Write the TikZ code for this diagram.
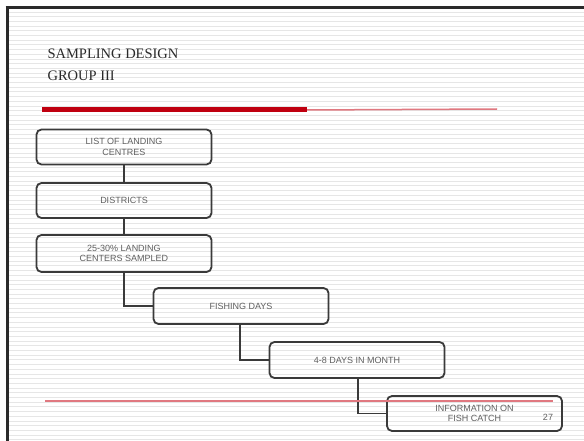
\documentclass[tikz,border=0pt]{standalone}
\usepackage{fontspec}
\setmainfont{Liberation Serif}
\newfontfamily\boxfont{Liberation Sans}
\definecolor{frame}{HTML}{2A2A2A}
\definecolor{stripe}{HTML}{E6E6E6}
\definecolor{darkred}{HTML}{C00010}
\definecolor{pinkred}{HTML}{E07880}
\definecolor{boxline}{HTML}{3A3A3A}
\definecolor{boxtext}{HTML}{606060}
\begin{document}
\begin{tikzpicture}[x=1pt,y=-1pt,
  stepbox/.style={draw=boxline,line width=1.8pt,rounded corners=5pt,minimum width=175pt,
    inner sep=0pt,font=\boxfont\fontsize{9}{10.5}\selectfont,text=boxtext,align=center},
  link/.style={draw=boxline,line width=1.8pt},
  titletext/.style={font=\fontsize{14.5}{16}\selectfont,text=frame,anchor=base west}]
\useasboundingbox (0,0) rectangle (584,441);
\fill[white] (0,0) rectangle (584,441);
\foreach \y in {12,16.7,...,441} \draw[stripe,line width=0.8pt] (9,\y) -- (584,\y);
% frame
\draw[frame,line width=3pt] (5.5,8) -- (584,8);
\draw[frame,line width=3pt] (7,6.5) -- (7,441);
% title
\node[titletext] (t1) at (44,59) {SAMPLING DESIGN};
\node[titletext] (t2) at (44,81) {GROUP III};
% red bars
\coordinate (ra) at (42,110);
\coordinate (rb) at (307,110);
\coordinate (rc) at (497,109);
\draw[pinkred,line width=1.5pt] (rb) -- (rc);
\draw[darkred,line width=5pt] (ra) -- (rb);
% boxes
\node[stepbox,minimum height=35pt] (b1) at (124,147) {LIST OF LANDING\\CENTRES};
\node[stepbox,minimum height=35pt] (b2) at (124,200.5) {DISTRICTS};
\node[stepbox,minimum height=37pt] (b3) at (124,253.5) {25-30\% LANDING\\CENTERS SAMPLED};
\node[stepbox,minimum height=36pt] (b4) at (241,306) {FISHING DAYS};
\node[stepbox,minimum height=36pt] (b5) at (357,360) {4-8 DAYS IN MONTH};
\node[stepbox,minimum height=35pt] (b6) at (474.5,413.5) {INFORMATION ON\\FISH CATCH};
% connectors
\draw[link] (b1) -- (b2);
\draw[link] (b2) -- (b3);
\draw[link] (b3.south) |- (b4.west);
\draw[link] (b4.south -| 240,0) |- (b5.west);
\draw[link] (b5.south -| 358,0) |- (b6.west);
% bottom red line
\coordinate (la) at (45,401);
\coordinate (lb) at (553,401);
\draw[pinkred,line width=1.5pt] (la) -- (lb);
\node[font=\boxfont\fontsize{9}{10.5}\selectfont,text=boxtext] (pg) at (548,417) {27};
\end{tikzpicture}
\end{document}
